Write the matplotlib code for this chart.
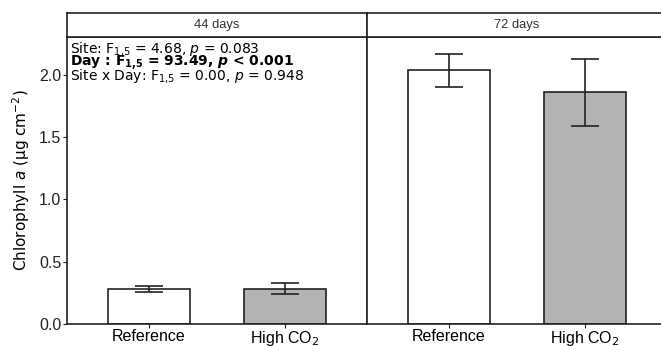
import numpy as np
import matplotlib
matplotlib.use('Agg')
from matplotlib import pyplot as plt

# data
panels = ['44 days', '72 days']
sites = ['Reference', 'High CO$_2$']
means = [[0.285, 0.285], [2.04, 1.86]]
err_lo = [[0.26, 0.24], [1.90, 1.59]]
err_hi = [[0.305, 0.33], [2.17, 2.13]]
bar_colors = ['white', '#b3b3b3']
stats = ['Site: F$_{1{,}5}$ = 4.68, $p$ = 0.083',
         r'Day : F$_\mathbf{1{,}5}$ = 93.49, $\mathbfit{p}$ < 0.001',
         'Site x Day: F$_{1{,}5}$ = 0.00, $p$ = 0.948']

W, H = 661., 346.
fig = plt.figure(figsize=(W/100, H/100), dpi=100)

tick_font = 'Liberation Sans'
x = np.arange(1, len(sites)+1)
for k, name in enumerate(panels):
    x0 = 67 + k*300
    ax = fig.add_axes([x0/W, (H-324)/H, 300/W, 287/H])
    m = np.array(means[k])
    lo = m - np.array(err_lo[k])
    hi = np.array(err_hi[k]) - m
    ax.bar(x, m, width=0.6, color=bar_colors, edgecolor='#222222', linewidth=1.2, zorder=2)
    ax.errorbar(x, m, yerr=[lo, hi], fmt='none', ecolor='#222222', elinewidth=1.2,
                capsize=10, capthick=1.2, zorder=3)
    ax.set_xlim(0.4, 2.6)
    ax.set_ylim(0, 2.305)
    ax.set_xticks(x)
    ax.set_xticklabels(sites, fontsize=11.5, family=tick_font)
    ax.tick_params(axis='x', length=3, width=0.8, pad=0.5, colors='#222222', labelcolor='black')
    if k == 0:
        ax.set_yticks([0, 0.5, 1.0, 1.5, 2.0])
        ax.set_yticklabels(['0.0', '0.5', '1.0', '1.5', '2.0'], fontsize=11.5, family=tick_font)
        ax.tick_params(axis='y', length=3, width=0.8, pad=1, colors='#222222', labelcolor='#222222')
        ax.set_ylabel('Chlorophyll $a$ (μg cm$^{-2}$)', fontsize=11, labelpad=5)
        for i, s in enumerate(stats):
            ax.text(0.01, 0.99 - i*0.047, s, transform=ax.transAxes, fontsize=10,
                    va='top', ha='left', fontweight='bold' if i == 1 else 'normal')
    else:
        ax.set_yticks([])
    for sp in ax.spines.values():
        sp.set_color('#222222')
        sp.set_linewidth(1.2)
    # strip
    st = fig.add_axes([x0/W, (H-37)/H, 300/W, 24/H])
    st.set_xticks([])
    st.set_yticks([])
    for sp in st.spines.values():
        sp.set_color('#222222')
        sp.set_linewidth(1.2)
    st.text(0.5, 0.5, name, transform=st.transAxes, ha='center', va='center',
            fontsize=9.3, family=tick_font, color='#333333')

fig.savefig('out.png', dpi=100)
